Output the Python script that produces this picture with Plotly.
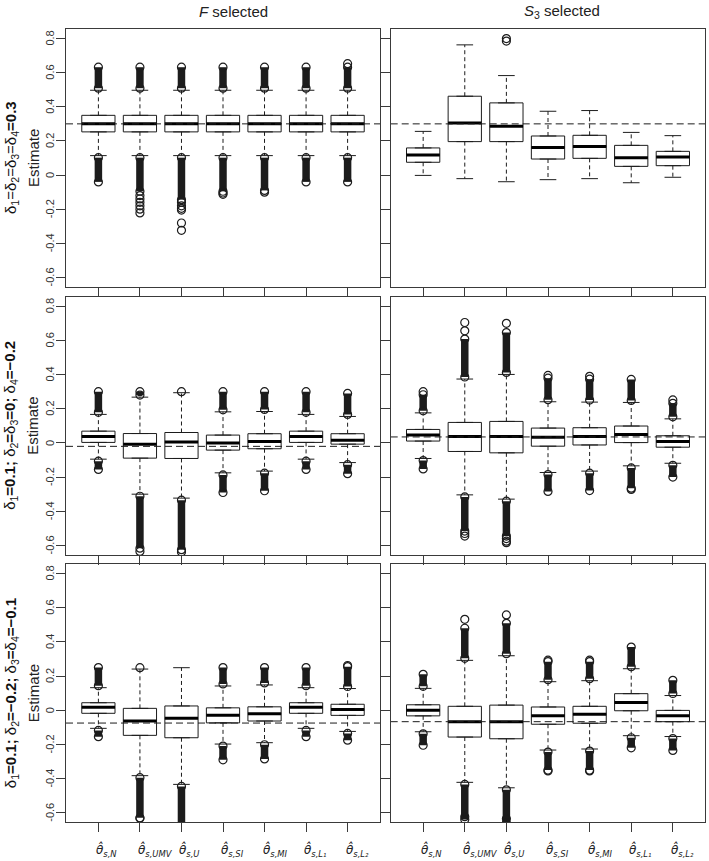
import plotly.graph_objects as go
from plotly.subplots import make_subplots

# ---------------- data ----------------
estimators = ["N", "UMV", "U", "SI", "MI", "L1", "L2"]
x_subscripts = ["s,N", "s,UMV", "s,U", "s,SI", "s,MI", "s,L₁", "s,L₂"]
y_ticks = [-0.6, -0.4, -0.2, 0, 0.2, 0.4, 0.6, 0.8]
y_ticktext = ["-0.6", "-0.4", "-0.2", "0", "0.2", "0.4", "0.6", "0.8"]
col_titles = ["<i>F</i> selected", "<i>S</i><sub>3</sub> selected"]
row_titles = [
    "δ<sub>1</sub>=δ<sub>2</sub>=δ<sub>3</sub>=δ<sub>4</sub><b>=0.3</b>",
    "δ<sub>1</sub><b>=0.1; </b>δ<sub>2</sub><b>=</b>δ<sub>3</sub><b>=0; </b>δ<sub>4</sub><b>=−0.2</b>",
    "δ<sub>1</sub><b>=0.1; </b>δ<sub>2</sub><b>=−0.2; </b>δ<sub>3</sub><b>=</b>δ<sub>4</sub><b>=−0.1</b>",
]
ref_values = [0.3, 0.3, -0.02, 0.035, -0.075, -0.067]

# Row 1, F selected
a_q1 = [0.253, 0.253, 0.253, 0.253, 0.253, 0.253, 0.253]
a_med = [0.300, 0.300, 0.300, 0.300, 0.300, 0.300, 0.300]
a_q3 = [0.350, 0.350, 0.350, 0.350, 0.350, 0.350, 0.350]
a_lw = [0.114, 0.114, 0.114, 0.114, 0.114, 0.114, 0.114]
a_uw = [0.497, 0.497, 0.497, 0.497, 0.497, 0.497, 0.497]
a_top = [0.632, 0.632, 0.632, 0.632, 0.632, 0.632, 0.632]
a_bot = [-0.040, -0.095, -0.144, -0.095, -0.090, -0.040, -0.040]
a_iso = [[], [-0.12, -0.14, -0.16, -0.18, -0.20, -0.222], [-0.16, -0.18, -0.195, -0.205, -0.281, -0.324],
         [-0.105, -0.113], [-0.10], [], [0.653]]

# Row 1, S3 selected
b_q1 = [0.075, 0.196, 0.196, 0.094, 0.098, 0.051, 0.055]
b_med = [0.118, 0.305, 0.286, 0.162, 0.168, 0.102, 0.106]
b_q3 = [0.159, 0.462, 0.423, 0.229, 0.233, 0.174, 0.139]
b_lw = [-0.002, -0.021, -0.039, -0.027, -0.021, -0.045, -0.013]
b_uw = [0.256, 0.763, 0.583, 0.374, 0.378, 0.250, 0.231]
b_top = [None, None, None, None, None, None, None]
b_bot = [None, None, None, None, None, None, None]
b_iso = [[], [], [0.785, 0.800], [], [], [], []]

# Row 2, F selected
c_q1 = [0.003, -0.089, -0.091, -0.042, -0.034, 0.003, -0.007]
c_med = [0.038, -0.007, 0.005, 0.000, 0.008, 0.038, 0.016]
c_q3 = [0.069, 0.055, 0.061, 0.046, 0.054, 0.069, 0.054]
c_lw = [-0.095, -0.300, -0.323, -0.175, -0.165, -0.095, -0.115]
c_uw = [0.167, 0.268, 0.294, 0.182, 0.184, 0.167, 0.155]
c_top = [0.300, 0.300, None, 0.300, 0.300, 0.300, 0.290]
c_bot = [-0.155, -0.616, -0.625, -0.290, -0.280, -0.155, -0.180]
c_iso = [[], [-0.635], [0.300, -0.638], [], [], [], []]

# Row 2, S3 selected
d_q1 = [0.011, -0.050, -0.058, -0.019, -0.012, 0.002, -0.025]
d_med = [0.046, 0.038, 0.038, 0.034, 0.038, 0.049, 0.008]
d_q3 = [0.079, 0.120, 0.126, 0.087, 0.089, 0.099, 0.042]
d_lw = [-0.091, -0.304, -0.329, -0.173, -0.165, -0.134, -0.119]
d_uw = [0.176, 0.374, 0.401, 0.241, 0.239, 0.237, 0.141]
d_top = [0.282, 0.608, 0.646, 0.379, 0.373, 0.372, 0.232]
d_bot = [-0.152, -0.516, -0.545, -0.284, -0.279, -0.265, -0.200]
d_iso = [[0.300], [0.656, 0.705, -0.530, -0.545], [0.700, -0.560, -0.575, -0.584],
         [0.395], [0.390], [-0.272], [0.252]]

# Row 3, F selected
e_q1 = [-0.018, -0.147, -0.161, -0.074, -0.063, -0.018, -0.030]
e_med = [0.017, -0.063, -0.047, -0.030, -0.021, 0.017, 0.005]
e_q3 = [0.044, 0.011, 0.025, 0.014, 0.020, 0.044, 0.035]
e_lw = [-0.106, -0.383, -0.434, -0.198, -0.190, -0.106, -0.124]
e_uw = [0.132, 0.241, 0.249, 0.142, 0.148, 0.132, 0.127]
e_top = [0.250, None, None, 0.250, 0.250, 0.250, 0.255]
e_bot = [-0.155, -0.630, -0.680, -0.290, -0.285, -0.155, -0.175]
e_iso = [[], [0.249, -0.632], [], [], [], [], [0.262]]

# Row 3, S3 selected
f_q1 = [-0.033, -0.157, -0.167, -0.082, -0.076, -0.003, -0.067]
f_med = [0.000, -0.067, -0.067, -0.032, -0.024, 0.046, -0.032]
f_q3 = [0.032, 0.023, 0.030, 0.019, 0.023, 0.097, -0.001]
f_lw = [-0.126, -0.422, -0.454, -0.233, -0.227, -0.149, -0.154]
f_uw = [0.128, 0.292, 0.319, 0.167, 0.173, 0.243, 0.086]
f_top = [0.210, 0.480, 0.509, 0.284, 0.284, 0.370, 0.175]
f_bot = [-0.205, -0.640, -0.660, -0.350, -0.350, -0.220, -0.235]
f_iso = [[], [0.532, -0.623], [0.558, -0.635], [0.293, -0.355], [0.293, -0.355], [], []]

panels = [
    (1, 1, a_q1, a_med, a_q3, a_lw, a_uw, a_top, a_bot, a_iso),
    (1, 2, b_q1, b_med, b_q3, b_lw, b_uw, b_top, b_bot, b_iso),
    (2, 1, c_q1, c_med, c_q3, c_lw, c_uw, c_top, c_bot, c_iso),
    (2, 2, d_q1, d_med, d_q3, d_lw, d_uw, d_top, d_bot, d_iso),
    (3, 1, e_q1, e_med, e_q3, e_lw, e_uw, e_top, e_bot, e_iso),
    (3, 2, f_q1, f_med, f_q3, f_lw, f_uw, f_top, f_bot, f_iso),
]

# ---------------- figure ----------------
W, H = 709, 861
INK = "#1c1c1c"
AX = "#3a3a3a"
FONT = "Liberation Sans, Arial, sans-serif"

fig = make_subplots(rows=3, cols=2)
pos = list(range(1, len(estimators) + 1))

for k, (r, c, q1, med, q3, lw, uw, top, bot, iso) in enumerate(panels):
    # box bodies
    fig.add_trace(go.Box(x=pos, q1=q1, median=med, q3=q3, lowerfence=q1, upperfence=q3,
                         width=0.8, fillcolor="white", line=dict(color=INK, width=1),
                         boxpoints=False, showlegend=False, hoverinfo="skip"), row=r, col=c)
    # dashed whiskers
    wx, wy = [], []
    for i, p in enumerate(pos):
        wx += [p, p, None, p, p, None]
        wy += [q3[i], uw[i], None, q1[i], lw[i], None]
    fig.add_trace(go.Scatter(x=wx, y=wy, mode="lines", line=dict(color=INK, width=1, dash="4px,3px"),
                             showlegend=False, hoverinfo="skip"), row=r, col=c)
    # dense outlier runs
    rx, ry, ex, ey = [], [], [], []
    for i, p in enumerate(pos):
        if top[i] is not None:
            rx += [p, p, None]; ry += [uw[i] + 0.012, top[i], None]
            ex += [p, p]; ey += [uw[i] + 0.012, top[i]]
        if bot[i] is not None:
            rx += [p, p, None]; ry += [lw[i] - 0.012, bot[i], None]
            ex += [p, p]; ey += [lw[i] - 0.012, bot[i]]
    if rx:
        fig.add_trace(go.Scatter(x=rx, y=ry, mode="lines", line=dict(color=INK, width=7.5),
                                 showlegend=False, hoverinfo="skip"), row=r, col=c)
    ix, iy = list(ex), list(ey)
    for i, p in enumerate(pos):
        for v in iso[i]:
            ix.append(p); iy.append(v)
    if ix:
        fig.add_trace(go.Scatter(x=ix, y=iy, mode="markers",
                                 marker=dict(symbol="circle-open", size=8, color=INK, line=dict(width=1.2)),
                                 cliponaxis=True, showlegend=False, hoverinfo="skip"), row=r, col=c)
    # whisker staples
    sx, sy = [], []
    for i, p in enumerate(pos):
        sx += [p - 0.2, p + 0.2, None, p - 0.2, p + 0.2, None]
        sy += [uw[i], uw[i], None, lw[i], lw[i], None]
    fig.add_trace(go.Scatter(x=sx, y=sy, mode="lines", line=dict(color=INK, width=1),
                             showlegend=False, hoverinfo="skip"), row=r, col=c)
    # thick medians
    mx, my = [], []
    for i, p in enumerate(pos):
        mx += [p - 0.4, p + 0.4, None]
        my += [med[i], med[i], None]
    fig.add_trace(go.Scatter(x=mx, y=my, mode="lines", line=dict(color="#000000", width=3),
                             showlegend=False, hoverinfo="skip"), row=r, col=c)
    # reference line
    fig.add_trace(go.Scatter(x=[0.22, 7.78], y=[ref_values[k], ref_values[k]], mode="lines",
                             line=dict(color=INK, width=1, dash="7px,4px"),
                             showlegend=False, hoverinfo="skip"), row=r, col=c)

x_domains = [[66 / W, 380 / W], [390.7 / W, 705.3 / W]]
y_domains = [[1 - 287 / H, 1 - 29 / H], [1 - 555 / H, 1 - 296.7 / H], [1 - 822.3 / H, 1 - 564 / H]]

for r in range(1, 4):
    for c in range(1, 3):
        fig.update_xaxes(row=r, col=c, domain=x_domains[c - 1], range=[0.22, 7.78],
                         tickvals=pos, showticklabels=False,
                         ticks="outside", ticklen=9, tickwidth=1, tickcolor=AX,
                         showline=True, linecolor=AX, linewidth=1, mirror=True,
                         showgrid=False, zeroline=False)
        fig.update_yaxes(row=r, col=c, domain=y_domains[r - 1], range=[-0.656, 0.856],
                         tickvals=y_ticks, showticklabels=False,
                         ticks="outside", ticklen=9, tickwidth=1, tickcolor=AX,
                         showline=True, linecolor=AX, linewidth=1, mirror=True,
                         showgrid=False, zeroline=False)

annotations = []
title_x = [233.5 / W, 562 / W]
for c in range(2):
    annotations.append(dict(text=col_titles[c], x=title_x[c], y=1 - 11 / H, xref="paper", yref="paper",
                            showarrow=False, xanchor="center", yanchor="middle",
                            font=dict(family=FONT, size=15, color="#222")))
row_centers = [(29 + 287) / 2, (296.7 + 555) / 2, (564 + 822.3) / 2]
for r in range(3):
    yc = 1 - row_centers[r] / H
    annotations.append(dict(text=row_titles[r], x=11 / W, y=yc, xref="paper", yref="paper",
                            showarrow=False, textangle=-90, xanchor="center", yanchor="middle",
                            font=dict(family=FONT, size=15, color="#111")))
    annotations.append(dict(text="Estimate", x=33 / W, y=yc, xref="paper", yref="paper",
                            showarrow=False, textangle=-90, xanchor="center", yanchor="middle",
                            font=dict(family=FONT, size=15, color="#222")))

# y tick labels of the left column (rotated, as in the original)
for yref in ["y", "y3", "y5"]:
    for v, t in zip(y_ticks, y_ticktext):
        annotations.append(dict(text=t, x=50 / W, y=v, xref="paper", yref=yref, showarrow=False,
                                textangle=-90, xanchor="center", yanchor="middle",
                                font=dict(family=FONT, size=11, color="#333")))

# x category labels (theta-hat with subscript) under the bottom row
for xref in ["x5", "x6"]:
    for i, p in enumerate(pos):
        annotations.append(dict(text="<i>θ̂</i><sub><i>" + x_subscripts[i] + "</i></sub>",
                                x=p, y=1 - 850 / H, xref=xref, yref="paper", showarrow=False,
                                xanchor="left", yanchor="middle", xshift=-4,
                                font=dict(family="DejaVu Sans, sans-serif", size=12, color="#222")))

fig.update_layout(width=W, height=H, autosize=False, margin=dict(l=0, r=0, t=0, b=0),
                  paper_bgcolor="white", plot_bgcolor="white", showlegend=False,
                  annotations=annotations, boxmode="overlay")

fig.write_html("out.html", config={"displayModeBar": False},
               post_script="document.body.style.margin='0';")
